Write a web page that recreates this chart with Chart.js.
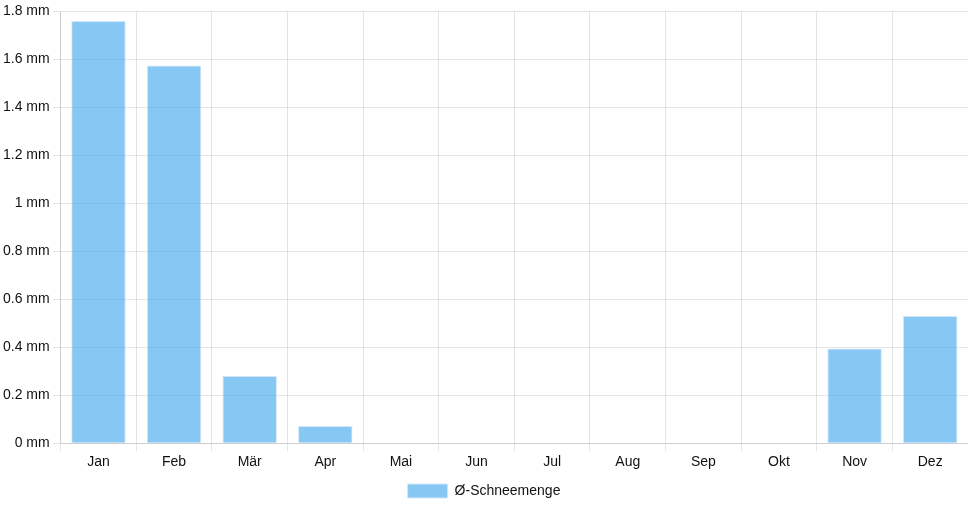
<!DOCTYPE html>
<html>
<head>
<meta charset="utf-8">
<script src="https://cdn.jsdelivr.net/npm/chart.js@4/dist/chart.umd.min.js"></script>
<style>
  html, body { margin: 0; padding: 0; background: #fff; }
  #wrap { width: 968px; height: 508px; }
</style>
</head>
<body>
<div id="wrap"><canvas id="snow-chart"></canvas></div>
<script>
// Monatsnamen und Werte
const monate = ['Jan', 'Feb', 'Mär', 'Apr', 'Mai', 'Jun', 'Jul', 'Aug', 'Sep', 'Okt', 'Nov', 'Dez'];
const schneemenge = [1.76, 1.575, 0.28, 0.072, 0, 0, 0, 0, 0, 0, 0.395, 0.53];
const yMax = 1.8;
const yStep = 0.2;

Chart.defaults.font.family = "'Liberation Sans', Arial, sans-serif";
Chart.defaults.font.size = 14;
Chart.defaults.color = '#111';

const ctx = document.getElementById('snow-chart').getContext('2d');
new Chart(ctx, {
  type: 'bar',
  data: {
    labels: monate,
    datasets: [{
      label: 'Ø-Schneemenge',
      data: schneemenge,
      backgroundColor: 'rgba(54, 162, 235, 0.6)',
      borderColor: 'rgba(210, 232, 250, 1)',
      borderWidth: 1
    }]
  },
  options: {
    responsive: true,
    maintainAspectRatio: false,
    animation: false,
    layout: { padding: 0 },
    plugins: {
      legend: {
        position: 'bottom',
        labels: { boxWidth: 40, boxHeight: 14, padding: 10 }
      },
      tooltip: { enabled: false }
    },
    scales: {
      x: {
        grid: { color: 'rgba(0,0,0,0.1)' },
        ticks: { padding: 3 }
      },
      y: {
        beginAtZero: true,
        max: yMax,
        grid: { color: 'rgba(0,0,0,0.1)' },
        ticks: {
          stepSize: yStep,
          callback: (v) => (Math.round(v * 10) / 10) + ' mm'
        }
      }
    }
  }
});
</script>
</body>
</html>
